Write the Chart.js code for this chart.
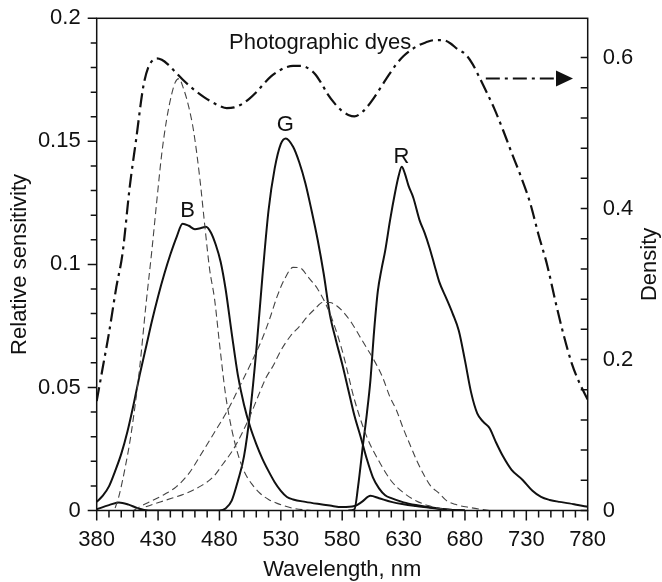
<!DOCTYPE html>
<html>
<head>
<meta charset="utf-8">
<script src="https://cdn.jsdelivr.net/npm/chart.js@4.4.1/dist/chart.umd.min.js"></script>
<style>
  html, body { margin: 0; padding: 0; background: #fff; }
  canvas { display: block; }
</style>
</head>
<body>
<canvas id="chartSpectra" width="662" height="582"></canvas>
<script>
// sensitivity curves (left axis)
const blueNm = [380, 385, 390, 395, 400, 405, 410, 415, 420, 425, 430, 435, 440, 445, 450, 455, 460, 465, 469, 473, 477, 481, 485, 490, 495, 500, 505, 510, 515, 520, 525, 530, 535, 540, 550, 560, 570, 580, 590, 596, 603, 610, 620, 630, 640, 650, 660, 670, 680];
const blueSens = [0.0035, 0.006, 0.0098, 0.016, 0.023, 0.032, 0.043, 0.055, 0.066, 0.077, 0.087, 0.096, 0.104, 0.111, 0.1165, 0.1157, 0.1143, 0.1148, 0.1153, 0.113, 0.108, 0.101, 0.090, 0.072, 0.055, 0.043, 0.034, 0.027, 0.021, 0.016, 0.0115, 0.008, 0.0055, 0.0045, 0.0035, 0.0027, 0.002, 0.0014, 0.0018, 0.0035, 0.006, 0.005, 0.0035, 0.0025, 0.0018, 0.0012, 0.0006, 0.0002, 0];

const greenNm = [380, 390, 398, 406, 414, 422, 480, 485, 490, 495, 500, 505, 510, 515, 520, 525, 530, 534, 540, 545, 550, 555, 560, 565, 570, 575, 580, 585, 590, 595, 600, 605, 610, 615, 620, 630, 640, 650, 660, 670, 680];
const greenSens = [0.0005, 0.0022, 0.0033, 0.0024, 0.0008, 0, 0, 0.0008, 0.004, 0.012, 0.022, 0.040, 0.065, 0.095, 0.122, 0.139, 0.149, 0.1512, 0.1478, 0.1415, 0.133, 0.122, 0.110, 0.096, 0.0795, 0.069, 0.0595, 0.049, 0.0385, 0.030, 0.021, 0.0135, 0.009, 0.0062, 0.005, 0.0033, 0.0022, 0.0014, 0.0007, 0.0002, 0];

const redNm = [585, 590, 593, 597, 600, 603, 606, 609, 612, 615, 619, 623, 626, 628.5, 631, 634, 638, 643, 647, 651, 655, 659, 665, 670, 675, 680, 685, 690, 695, 700, 705, 711, 718, 727, 735, 742, 749, 757, 765, 772, 780];
const redSens = [0, 0.0005, 0.01, 0.027, 0.039, 0.053, 0.073, 0.089, 0.098, 0.1055, 0.118, 0.129, 0.136, 0.1397, 0.137, 0.132, 0.127, 0.118, 0.113, 0.107, 0.100, 0.093, 0.086, 0.080, 0.073, 0.061, 0.048, 0.0395, 0.036, 0.0335, 0.028, 0.022, 0.0165, 0.0124, 0.008, 0.0055, 0.0043, 0.0035, 0.0029, 0.0022, 0.0015];

// dye spectra, dashed (left axis)
const yellowNm = [395, 398, 403, 408, 415, 420, 425, 429, 433, 437, 441, 444, 447, 451, 455, 459, 464, 468, 472, 476, 480, 485, 490, 495, 500, 506, 513, 520, 527, 540, 555];
const yellowDye = [0.001, 0.0056, 0.017, 0.031, 0.058, 0.083, 0.106, 0.126, 0.145, 0.159, 0.169, 0.174, 0.1755, 0.171, 0.164, 0.154, 0.135, 0.116, 0.098, 0.086, 0.068, 0.047, 0.033, 0.023, 0.016, 0.011, 0.007, 0.0045, 0.0029, 0.0009, 0];

const magentaNm = [410, 415, 425, 435, 445, 455, 464, 475, 487, 497, 507, 515, 521, 527, 533, 540, 546, 552, 560, 570, 580, 590, 600, 610, 620, 630, 640, 650, 660, 670];
const magentaDye = [0, 0.0015, 0.004, 0.0065, 0.0097, 0.015, 0.022, 0.031, 0.041, 0.051, 0.0612, 0.070, 0.078, 0.087, 0.094, 0.0988, 0.0985, 0.095, 0.090, 0.080, 0.065, 0.045, 0.030, 0.020, 0.012, 0.0072, 0.004, 0.002, 0.0008, 0];

const cyanNm = [420, 435, 453, 465, 475, 483, 491, 498, 505, 512, 518, 524, 530, 538, 545, 552, 558, 564, 570, 576, 582, 588, 594, 600, 606, 613, 619, 624, 630, 635, 641, 646, 652, 659, 665, 672, 684, 700];
const cyanDye = [0.0015, 0.004, 0.007, 0.010, 0.0137, 0.019, 0.0246, 0.031, 0.0385, 0.047, 0.054, 0.059, 0.065, 0.071, 0.0747, 0.079, 0.082, 0.0845, 0.0845, 0.083, 0.080, 0.076, 0.071, 0.066, 0.061, 0.054, 0.046, 0.041, 0.033, 0.027, 0.020, 0.015, 0.010, 0.007, 0.004, 0.0025, 0.0012, 0];

// total dye density, dash-dot (right axis)
const densityNm = [380, 385, 390, 396, 401, 407, 412, 418, 422, 426, 429, 433, 438, 444, 450, 456, 462, 468, 474, 480, 486, 492, 498, 504, 510, 516, 522, 528, 534, 540, 547, 553, 558, 563, 568, 574, 580, 585, 590, 595, 600, 606, 612, 618, 624, 630, 636, 642, 648, 655, 662, 668, 674, 680, 686, 692, 698, 704, 711, 718, 725, 733, 740, 747, 754, 760, 767, 773, 780];
const densityVal = [0.145, 0.19, 0.235, 0.296, 0.34, 0.43, 0.49, 0.562, 0.587, 0.597, 0.599, 0.597, 0.591, 0.581, 0.571, 0.562, 0.554, 0.547, 0.541, 0.536, 0.533, 0.534, 0.538, 0.545, 0.554, 0.565, 0.575, 0.582, 0.587, 0.589, 0.589, 0.585, 0.578, 0.566, 0.552, 0.539, 0.529, 0.524, 0.522, 0.526, 0.534, 0.547, 0.562, 0.577, 0.591, 0.602, 0.610, 0.616, 0.620, 0.623, 0.623, 0.619, 0.611, 0.605, 0.592, 0.573, 0.553, 0.532, 0.504, 0.474, 0.445, 0.408, 0.365, 0.325, 0.275, 0.235, 0.195, 0.17, 0.147];

const xTicks = [380, 430, 480, 530, 580, 630, 680, 730, 780];
const yTicks = [0, 0.05, 0.1, 0.15, 0.2];
const y2Ticks = [0, 0.2, 0.4, 0.6];

const FONT = "'Liberation Sans', Arial, Helvetica, sans-serif";
const INK = '#111';

function points(xs, ys) {
  return xs.map((x, i) => ({ x: x, y: ys[i] }));
}

function range(from, to, step) {
  const out = [];
  for (let v = from; v <= to + 1e-9; v += step) out.push(+v.toFixed(4));
  return out;
}

const solid = { borderColor: INK, borderWidth: 2, pointRadius: 0, fill: false, cubicInterpolationMode: 'monotone', yAxisID: 'y' };
const dashed = { borderColor: '#444', borderWidth: 1.1, borderDash: [7, 4], pointRadius: 0, fill: false, cubicInterpolationMode: 'monotone', yAxisID: 'y' };

// frame, tick marks and text labels
const decorations = {
  id: 'decorations',
  afterDatasetsDraw(chart) {
    const { ctx, chartArea: a, scales: { x, y, y2 } } = chart;
    ctx.save();
    ctx.strokeStyle = INK;
    ctx.lineWidth = 1.5;
    ctx.setLineDash([]);
    ctx.strokeRect(a.left, a.top, a.right - a.left, a.bottom - a.top);

    ctx.beginPath();
    range(380, 780, 10).forEach(v => {
      const px = x.getPixelForValue(v);
      const len = xTicks.includes(v) ? 10 : 7;
      ctx.moveTo(px, a.bottom);
      ctx.lineTo(px, a.bottom + len);
    });
    range(0, 0.2, 0.01).forEach(v => {
      const py = y.getPixelForValue(v);
      const len = yTicks.some(t => Math.abs(t - v) < 1e-6) ? 9 : 6;
      ctx.moveTo(a.left - len, py);
      ctx.lineTo(a.left, py);
    });
    range(0, 0.6, 0.04).forEach(v => {
      const py = y2.getPixelForValue(v);
      ctx.moveTo(a.right - 7, py);
      ctx.lineTo(a.right, py);
    });
    ctx.stroke();

    ctx.fillStyle = INK;
    ctx.font = '22px ' + FONT;
    ctx.textAlign = 'center';
    ctx.textBaseline = 'middle';
    ctx.fillText('Photographic dyes', x.getPixelForValue(562), y.getPixelForValue(0.19));
    ctx.fillText('B', x.getPixelForValue(454), y.getPixelForValue(0.1218));
    ctx.fillText('G', x.getPixelForValue(533.7), y.getPixelForValue(0.1566));
    ctx.fillText('R', x.getPixelForValue(628.2), y.getPixelForValue(0.1438));

    // arrow pointing to the density axis
    const ay = y2.getPixelForValue(0.5724);
    const ax0 = x.getPixelForValue(697);
    const ax1 = x.getPixelForValue(768);
    ctx.lineWidth = 2;
    ctx.setLineDash([14, 5, 3, 5]);
    ctx.beginPath();
    ctx.moveTo(ax0, ay);
    ctx.lineTo(ax1 - 14, ay);
    ctx.stroke();
    ctx.setLineDash([]);
    ctx.beginPath();
    ctx.moveTo(ax1, ay);
    ctx.lineTo(ax1 - 17, ay - 8);
    ctx.lineTo(ax1 - 17, ay + 8);
    ctx.closePath();
    ctx.fill();

    // right axis title reads bottom to top
    ctx.save();
    ctx.translate(650, (a.top + a.bottom) / 2);
    ctx.rotate(-Math.PI / 2);
    ctx.fillText('Density', 0, 0);
    ctx.restore();
    ctx.restore();
  }
};

const data = {
  datasets: [
    Object.assign({ label: 'Yellow dye', data: points(yellowNm, yellowDye) }, dashed),
    Object.assign({ label: 'Magenta dye', data: points(magentaNm, magentaDye) }, dashed),
    Object.assign({ label: 'Cyan dye', data: points(cyanNm, cyanDye) }, dashed),
    Object.assign({ label: 'B', data: points(blueNm, blueSens) }, solid),
    Object.assign({ label: 'G', data: points(greenNm, greenSens) }, solid),
    Object.assign({ label: 'R', data: points(redNm, redSens) }, solid),
    {
      label: 'Photographic dyes',
      data: points(densityNm, densityVal),
      yAxisID: 'y2',
      borderColor: INK,
      borderWidth: 2.2,
      borderDash: [14, 5, 3, 5],
      pointRadius: 0,
      fill: false,
      cubicInterpolationMode: 'monotone'
    }
  ]
};

const tickFont = { family: FONT, size: 22 };

function fixVertical(width) {
  return axis => {
    axis.width = width;
    axis.paddingTop = 0;
    axis.paddingBottom = 0;
  };
}

const config = {
  type: 'line',
  data,
  options: {
    responsive: false,
    animation: false,
    devicePixelRatio: 1,
    layout: { padding: { top: 18.3, right: 0, bottom: 0, left: 0 } },
    plugins: { legend: { display: false }, tooltip: { enabled: false } },
    scales: {
      x: {
        type: 'linear',
        min: 380,
        max: 780,
        afterBuildTicks: axis => { axis.ticks = xTicks.map(v => ({ value: v })); },
        afterFit: axis => { axis.height = 71.5; axis.paddingLeft = 0; axis.paddingRight = 0; },
        grid: { display: false, drawTicks: false },
        border: { display: false },
        ticks: { color: INK, font: tickFont, padding: 16, maxRotation: 0, autoSkip: false },
        title: { display: true, text: 'Wavelength, nm', color: INK, font: tickFont, padding: { top: 0, bottom: -1 } }
      },
      y: {
        position: 'left',
        min: 0,
        max: 0.2,
        afterBuildTicks: axis => { axis.ticks = yTicks.map(v => ({ value: v })); },
        afterFit: fixVertical(96.7),
        grid: { display: false, drawTicks: false },
        border: { display: false },
        ticks: { color: INK, font: tickFont, padding: 16, callback: v => String(+v.toFixed(2)) },
        title: { display: true, text: 'Relative sensitivity', color: INK, font: tickFont, padding: { top: 7, bottom: 0 } }
      },
      y2: {
        position: 'right',
        min: 0,
        max: 0.652,
        afterBuildTicks: axis => { axis.ticks = y2Ticks.map(v => ({ value: v })); },
        afterFit: fixVertical(74.3),
        grid: { display: false, drawTicks: false },
        border: { display: false },
        ticks: { color: INK, font: tickFont, padding: 15, callback: v => String(+v.toFixed(1)) }
      }
    }
  },
  plugins: [decorations]
};

const chartSpectra = new Chart(document.getElementById('chartSpectra'), config);
</script>
</body>
</html>
